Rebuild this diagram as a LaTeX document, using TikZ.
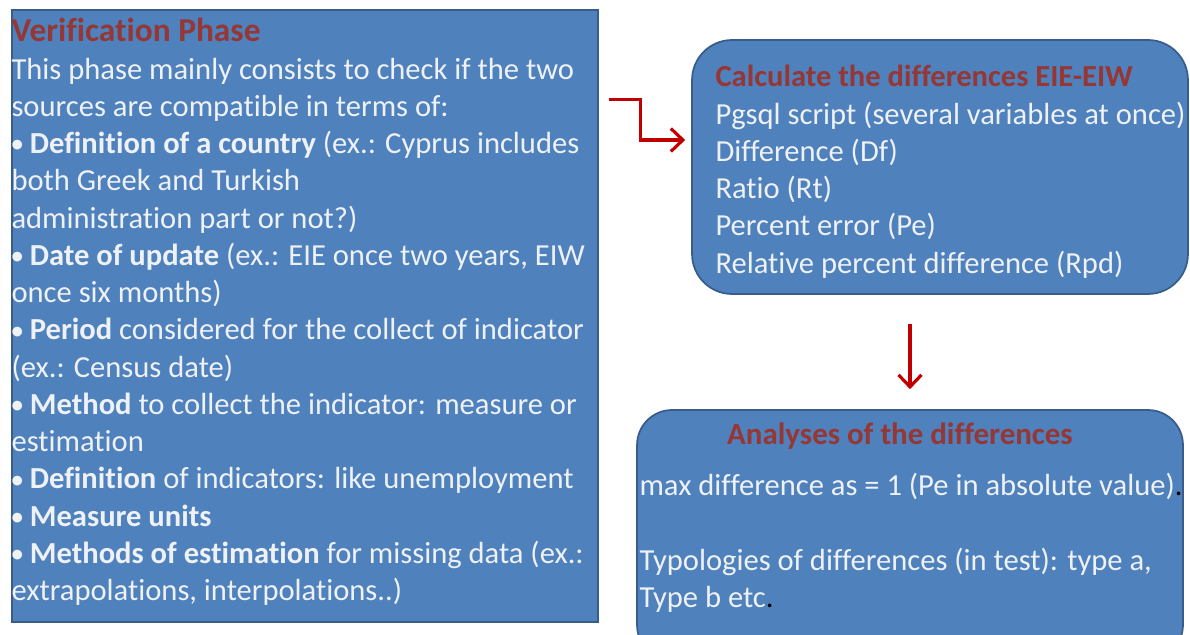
\documentclass[tikz,border=0pt]{standalone}
\usepackage{fontspec}
\usepackage{graphicx}
\setmainfont[Ligatures=NoCommon]{Carlito}
\usetikzlibrary{arrows.meta, positioning, calc}
\definecolor{boxblue}{HTML}{4F81BD}
\definecolor{boxedge}{HTML}{385D8A}
\definecolor{headred}{HTML}{953735}
\definecolor{arrowred}{HTML}{C00000}
\definecolor{paletext}{HTML}{EEF1F5}
\newcommand{\bul}{\raisebox{0.12ex}{\scalebox{0.75}{•}}}

\begin{document}
\begin{tikzpicture}[
  x=0.02cm, y=-0.02cm,
  >={Straight Barb[length=2.4mm, width=4.6mm]},
  phasebox/.style={draw=boxedge, fill=boxblue, line width=1pt, inner sep=0pt},
  bodytext/.style={text=paletext, font=\fontsize{17.4}{21.2}\selectfont, align=left, inner sep=0pt},
  headtext/.style={text=headred, font=\fontsize{17.6}{21.2}\selectfont\bfseries, inner sep=0pt},
  flow/.style={arrowred, line width=1.8pt, ->},
]

% Frame
\useasboundingbox (0,0) rectangle (1190,635);
\clip (0,0) rectangle (1190,635);

% Boxes
\node[phasebox, minimum width=11.72cm, minimum height=12.24cm] (verif) at (305,316) {};
\node[phasebox, rounded corners=0.8cm, minimum width=9.92cm, minimum height=5.08cm] (calc) at (940,167) {};
\node[phasebox, rounded corners=0.7cm, minimum width=10.92cm, minimum height=5.0cm] (anal) at (910,535) {};

% Verification phase text
\node[bodytext, anchor=north west] (verif text) at ($(verif.north west)+(0,9)$) {%
{\fontsize{19}{21.2}\selectfont\bfseries\color{headred}Verification Phase}\\
This phase mainly consists to check if the two\\
sources are compatible in terms of:\\
\textbf{\bul{} Definition of a country} (ex.: Cyprus includes\\
both Greek and Turkish\\
administration part or not?)\\
\textbf{\bul{} Date of update} (ex.: EIE once two years, EIW\\
once six months)\\
\textbf{\bul{} Period} considered for the collect of indicator\\
(ex.: Census date)\\
\textbf{\bul{} Method} to collect the indicator: measure or\\
estimation\\
\textbf{\bul{} Definition} of indicators: like unemployment\\
\textbf{\bul{} Measure units}\\
\textbf{\bul{} Methods of estimation} for missing data (ex.:\\
extrapolations, interpolations..)};

% Calculation text
\node[bodytext, anchor=north west] (calc text) at ($(calc.north west)+(24,26)$) {%
{\bfseries\color{headred}Calculate the differences EIE-EIW}\\
Pgsql script (several variables at once)\\
Difference (Df)\\
Ratio (Rt)\\
Percent error (Pe)\\
Relative percent difference (Rpd)};

% Analysis text
\node[headtext, anchor=base] (anal head) at ($(anal.north)+(-10,35)$) {Analyses of the differences};
\node[bodytext, anchor=north west] (anal text) at ($(anal.north west)+(3,64)$) {%
max difference as = 1 (Pe in absolute value){\color{black}.}\\[21.2pt]
Typologies of differences (in test): type a,\\
Type b etc{\color{black}.}};

% Connectors
\draw[flow] ($(verif.north east)+(10,90)$) -- ++(32,0) |- ($(calc.west)+(-6,-27)$);
\draw[flow] ($(calc.south -| anal.north)+(0,29)$) -- ($(anal.north)+(0,-20)$);

\end{tikzpicture}
\end{document}
